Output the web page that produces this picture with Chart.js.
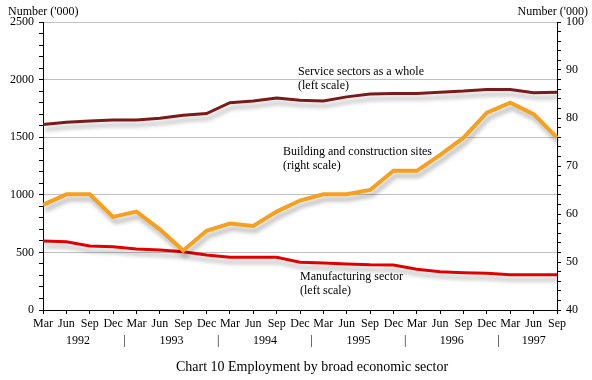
<!DOCTYPE html>
<html><head><meta charset="utf-8">
<script src="https://cdn.jsdelivr.net/npm/chart.js@4/dist/chart.umd.min.js"></script>
<style>html,body{margin:0;padding:0;background:#fff}#wrap{width:592px;height:380px;position:relative}</style>
</head><body><div id="wrap"><canvas id="c" width="592" height="380"></canvas></div>
<script>
// ---- data ----
const months = ['Mar','Jun','Sep','Dec','Mar','Jun','Sep','Dec','Mar','Jun','Sep','Dec',
                'Mar','Jun','Sep','Dec','Mar','Jun','Sep','Dec','Mar','Jun','Sep'];
const years = ['1992','1993','1994','1995','1996','1997'];
const services = [1610,1630,1640,1650,1650,1665,1690,1705,1800,1815,1840,1820,
                  1815,1850,1875,1880,1880,1890,1900,1915,1915,1885,1890];
const building = [61.9,64.1,64.1,59.4,60.5,56.8,52.4,56.5,58.0,57.5,60.5,62.8,
                  64.1,64.1,65.0,69.0,69.0,72.3,75.9,81.1,83.2,80.8,75.9];
const manufacturing = [600,593,555,550,530,521,506,477,457,457,457,415,
                       407,399,392,390,353,333,324,318,307,307,307];
const leftTicksMajor = 500, rightTicksMajor = 10;
const titleText = 'Chart 10 Employment by broad economic sector';
const axisTitle = "Number ('000)";
const notes = [
  {lines:['Service sectors as a whole','(left scale)'], x:298, y:72},
  {lines:['Building and construction sites','(right scale)'], x:283, y:152},
  {lines:['Manufacturing sector','(left scale)'], x:300, y:277}
];
const yearOfPoint = months.map((m,i)=>Math.floor(i/4));

const FONT = '"Liberation Serif","Times New Roman",serif';
Chart.defaults.font.family = FONT;
Chart.defaults.font.size = 12;
Chart.defaults.color = '#000';

const shadowPlugin = {
  id:'shadow',
  beforeDatasetDraw(chart){
    const ctx = chart.ctx; ctx.save();
    ctx.shadowColor='rgba(0,0,0,0.28)'; ctx.shadowBlur=4; ctx.shadowOffsetX=2; ctx.shadowOffsetY=5;
  },
  afterDatasetDraw(chart){ chart.ctx.restore(); }
};

const textPlugin = {
  id:'texts',
  afterDraw(chart){
    const ctx = chart.ctx, xs = chart.scales.x;
    ctx.save();
    ctx.fillStyle='#000';
    ctx.font = '12px ' + FONT;
    ctx.textBaseline='middle';
    // axis titles
    ctx.textAlign='left'; ctx.fillText(axisTitle, 8, 12);
    ctx.textAlign='right'; ctx.fillText(axisTitle, 588, 12);
    // years
    ctx.textAlign='center';
    const yy = 341;
    years.forEach((y,k)=>{
      const idx = yearOfPoint.map((v,i)=>v===k?i:-1).filter(i=>i>=0);
      const a = xs.getPixelForValue(idx[0]), b = xs.getPixelForValue(idx[idx.length-1]);
      ctx.fillText(y, (a+b)/2, yy);
      if (k < years.length-1) {
        const n = xs.getPixelForValue(idx[idx.length-1]+1);
        ctx.fillText('|', (b+n)/2, yy);
      }
    });
    // notes
    ctx.textAlign='left';
    notes.forEach(n=>n.lines.forEach((l,j)=>ctx.fillText(l, n.x, n.y + j*14)));
    // title
    ctx.textAlign='center';
    ctx.font = '14px ' + FONT;
    ctx.fillText(titleText, 312, 367);
    ctx.restore();
  }
};

new Chart(document.getElementById('c'), {
  type:'line',
  data:{
    labels: months,
    datasets:[
      {data:services, yAxisID:'y', borderColor:'#7b1a1a', borderWidth:3},
      {data:building, yAxisID:'y2', borderColor:'#f5a01e', borderWidth:4},
      {data:manufacturing, yAxisID:'y', borderColor:'#e00000', borderWidth:3}
    ]
  },
  options:{
    responsive:false, animation:false, devicePixelRatio:1,
    layout:{padding:{top:22,left:0,right:0,bottom:0}},
    elements:{point:{radius:0}, line:{tension:0, borderJoinStyle:'miter', borderCapStyle:'butt'}},
    plugins:{legend:{display:false}, tooltip:{enabled:false}},
    scales:{
      x:{
        type:'category', offset:false,
        grid:{display:true, drawOnChartArea:false, tickLength:4, color:'#000'},
        border:{color:'#000'},
        ticks:{autoSkip:false, maxRotation:0, minRotation:0, padding:3},
        afterFit(s){ s.height = 70; }
      },
      y:{
        position:'left', min:0, max:2500,
        ticks:{stepSize:100, autoSkip:false, padding:5,
               callback:v=> v%leftTicksMajor===0 ? String(v) : ''},
        grid:{color:c=> (c.tick && c.tick.value%leftTicksMajor===0) ? '#c0c0c0' : 'rgba(0,0,0,0)',
              tickColor:'#000', tickLength:4},
        border:{color:'#000'},
        afterFit(s){ s.width = 43; }
      },
      y2:{
        position:'right', min:40, max:100,
        ticks:{stepSize:2, autoSkip:false, padding:5,
               callback:v=> v%rightTicksMajor===0 ? String(v) : ''},
        grid:{drawOnChartArea:false, tickColor:'#000', tickLength:4},
        border:{color:'#000'},
        afterFit(s){ s.width = 35; }
      }
    }
  },
  plugins:[shadowPlugin, textPlugin]
});
</script></body></html>
